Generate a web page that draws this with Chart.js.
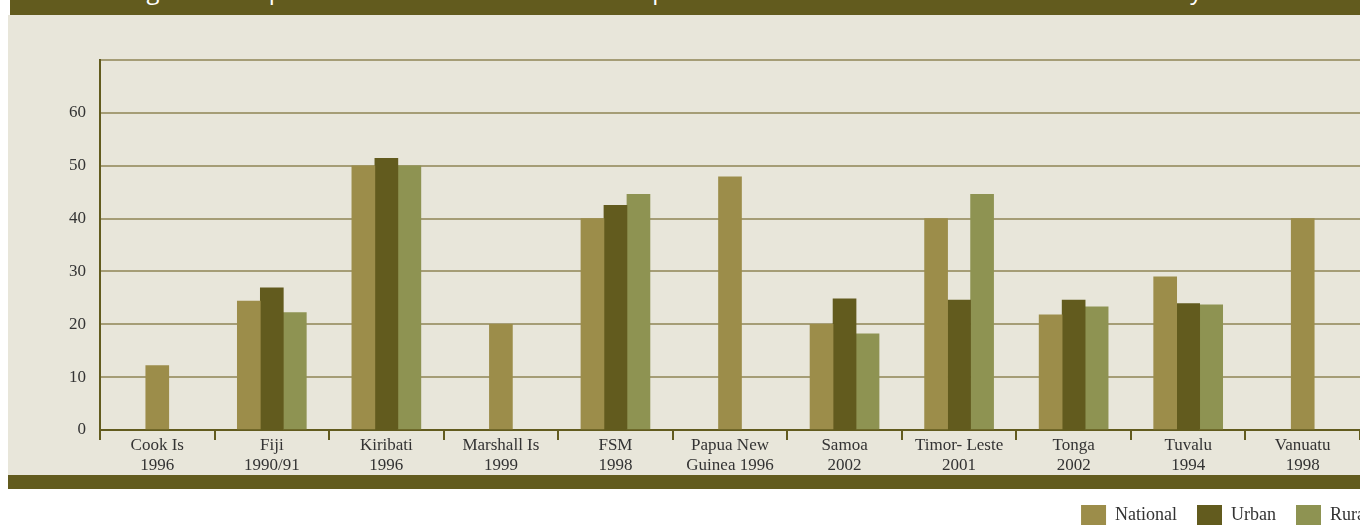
<!DOCTYPE html>
<html>
<head>
<meta charset="utf-8">
<script src="https://cdn.jsdelivr.net/npm/chart.js@4"></script>
<style>
  html, body { margin: 0; padding: 0; background: #fff; overflow: hidden; }
  #wrap { position: relative; width: 1390px; height: 535px; }
  .band { position: absolute; left: 10px; width: 1380px; background: #625b1e; overflow: hidden; }
  #top { top: 0; height: 15px; }
  #bottom { top: 475px; height: 14px; left: 8px; width: 1382px; }
  #panel { position: absolute; left: 8px; top: 15px; width: 1382px; height: 460px; background: #e8e6da; }
  #title { position: absolute; left: 118px; top: -27px; white-space: nowrap; color: #fff;
           font: 24px "Open Sans", sans-serif; }
  canvas { position: absolute; left: 0; top: 0; }
</style>
</head>
<body>
<div id="wrap">
  <div id="top" class="band"><div id="title">Figure 3: Proportion of Households with Per Capita Incomes below National Basic Needs Poverty Line</div></div>
  <div id="panel"></div>
  <div id="bottom" class="band"></div>
  <canvas id="myChart" width="1390" height="535"></canvas>
</div>
<script>
var categories = [
    ['Cook Is', '1996'], ['Fiji', '1990/91'], ['Kiribati', '1996'], ['Marshall Is', '1999'],
    ['FSM', '1998'], ['Papua New', 'Guinea 1996'], ['Samoa', '2002'], ['Timor- Leste', '2001'],
    ['Tonga', '2002'], ['Tuvalu', '1994'], ['Vanuatu', '1998']
];
var national = [12.2, 24.4, 50, 20, 40, 47.9, 20, 40, 21.8, 29, 40];
var urban = [null, 26.9, 51.4, null, 42.5, null, 24.8, 24.6, 24.6, 23.9, null];
var rural = [null, 22.2, 50, null, 44.6, null, 18.2, 44.6, 23.3, 23.7, null];
var yTicks = [0, 10, 20, 30, 40, 50, 60, 70];

var serif = '"Liberation Serif", "DejaVu Serif", serif';
var ctx = document.getElementById('myChart').getContext('2d');

var myChart = new Chart(ctx, {
    type: 'bar',
    data: {
        labels: categories,
        datasets: [
            { label: 'National', data: national, backgroundColor: '#9c8d4a' },
            { label: 'Urban', data: urban, backgroundColor: '#625b1e' },
            { label: 'Rural', data: rural, backgroundColor: '#8e9352' }
        ]
    },
    options: {
        responsive: false,
        animation: false,
        devicePixelRatio: 1,
        skipNull: true,
        barThickness: 23,
        layout: { padding: { top: 60, left: 0, right: 0, bottom: 0 } },
        plugins: {
            tooltip: { enabled: false },
            legend: {
                position: 'bottom',
                align: 'end',
                labels: {
                    boxWidth: 25,
                    boxHeight: 20,
                    padding: 20,
                    color: '#333',
                    font: { family: serif, size: 18 }
                }
            }
        },
        scales: {
            x: {
                grid: { drawOnChartArea: false, drawTicks: true, tickLength: 10, color: '#625b1e', lineWidth: 2 },
                border: { color: '#625b1e', width: 2 },
                ticks: {
                    color: '#333',
                    padding: -4,
                    maxRotation: 0,
                    autoSkip: false,
                    font: { family: serif, size: 17, lineHeight: 1.15 }
                },
                afterFit: function (s) { s.height = 55; }
            },
            y: {
                min: 0,
                max: 70,
                afterBuildTicks: function (s) { s.ticks = yTicks.map(function (v) { return { value: v }; }); },
                grid: { drawTicks: false, color: '#a59d76', lineWidth: 2 },
                border: { color: '#625b1e', width: 2 },
                ticks: {
                    color: '#333',
                    padding: 14,
                    font: { family: serif, size: 17 },
                    callback: function (v) { return v === 70 ? '' : v; }
                },
                afterFit: function (s) { s.width = 100; }
            },
            yr: {
                position: 'right',
                grid: { display: false },
                border: { display: false },
                ticks: { display: false },
                afterFit: function (s) { s.width = 30; }
            }
        }
    }
});
</script>
</body>
</html>
